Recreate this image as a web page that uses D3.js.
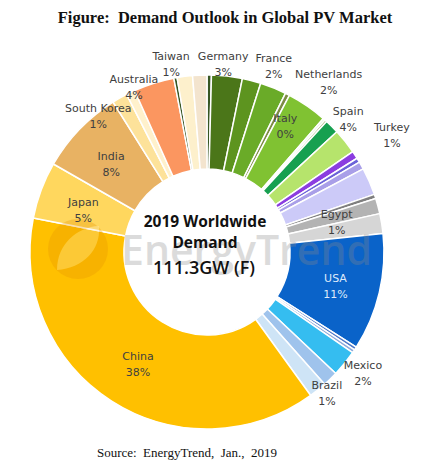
<!DOCTYPE html>
<html>
<head>
<meta charset="utf-8">
<script src="https://cdn.jsdelivr.net/npm/d3@7/dist/d3.min.js"></script>
<style>
  html, body { margin: 0; padding: 0; background: #fff; }
  .lbl { font-family: "DejaVu Sans", sans-serif; font-size: 11px; fill: #404040; }
</style>
</head>
<body>
<div class="chart"></div>
<script>
// slice order: clockwise from 12 o'clock, shares in % of 111.3 GW
var countries = ["", "Germany", "France", "Netherlands", "Italy", "Spain", "", "", "Turkey", "",
  "", "", "", "", "", "Egypt", "", "USA", "", "",
  "Mexico", "Brazil", "", "China", "Japan", "India", "South Korea", "", "Australia", "",
  "Taiwan", ""];
var shares = [0.4, 2.8, 1.7, 2.4, 0.4, 3.7, 0.2, 0.2, 1.3, 2.3,
  0.7, 0.4, 0.7, 2.5, 0.4, 1.4, 1.8, 10.7, 0.3, 0.3,
  2.4, 1.4, 1.6, 38.0, 5.2, 7.8, 1.4, 0.8, 3.7, 0.3,
  1.4, 1.3];
var colors = ["#375623", "#4b7619", "#5d941f", "#6aab28", "#7d8c45", "#80c232", "#e2efd5", "#9aae64", "#17a050", "#b6e46c",
  "#8b3de0", "#6b62d8", "#a99fe8", "#cccaf8", "#7f7f7f", "#b3b3b3", "#d6d6d6", "#0a63c9", "#4e79c8", "#8eaadb",
  "#35bdf0", "#9fc3ec", "#cee4f6", "#ffc000", "#ffd75e", "#e8b263", "#fde29a", "#fff1cc", "#fb9660", "#375623",
  "#fdf0cc", "#f3e4ce"];

(function() {
  var
    width = 435,
    height = 469,
    center = { x: 207, y: 252 },
    rOuter = 177,
    rInner = 83;

  // where each data label sits: [angle in degrees, radius]; null angle = middle of its slice
  var labelPlace = {
    "Taiwan": [349.4, 195], "Germany": [4.8, 193], "France": [19.4, 201],
    "Netherlands": [35, 212], "Italy": [31, 152], "Spain": [45.8, 197],
    "Turkey": [56.8, 221], "Egypt": [75.3, 134], "USA": [null, 132],
    "Mexico": [126.9, 195], "Brazil": [138.8, 182], "China": [null, 128],
    "Japan": [null, 132], "India": [null, 133], "South Korea": [322.1, 177],
    "Australia": [336.6, 184]
  };

  var slices = shares.map(function(v, i) {
    return { name: countries[i], value: v, color: colors[i] };
  });
  var total = d3.sum(shares);

  var svg = d3.select(".chart").append("svg")
    .attr("width", width)
    .attr("height", height)
    .attr("viewBox", "0 0 " + width + " " + height);

  svg.append("text")
    .attr("x", 225).attr("y", 23)
    .attr("text-anchor", "middle")
    .style("font-family", "'Liberation Serif', serif")
    .style("font-weight", "bold")
    .style("font-size", "16.5px")
    .attr("fill", "#111")
    .text("Figure:\u00a0 Demand Outlook in Global PV Market");

  var g = svg.append("g").attr("transform", "translate(" + center.x + "," + center.y + ")");

  var pie = d3.pie().sort(null).value(function(d) { return d.value; });
  var arc = d3.arc().innerRadius(rInner).outerRadius(rOuter);
  var arcs = pie(slices);

  g.selectAll("path.slice")
    .data(arcs).enter()
    .append("path")
      .attr("class", "slice")
      .attr("d", arc)
      .attr("fill", function(d) { return d.data.color; })
      .attr("stroke", "#fff")
      .attr("stroke-width", 1.5)
      .attr("stroke-linejoin", "round");

  // watermark
  var wm = g.append("g").attr("opacity", 0.3);
  wm.append("circle")
    .attr("cx", -129).attr("cy", -3).attr("r", 30)
    .attr("fill", "#e89400");
  wm.append("path")
    .attr("d", "M-150,18 C-150,-8 -130,-25 -108,-26 C-106,-2 -124,16 -150,18 Z")
    .attr("fill", "#fff").attr("opacity", 0.7);
  wm.append("text")
    .attr("x", -86).attr("y", 13)
    .style("font-family", "'Open Sans', sans-serif")
    .style("font-weight", "600")
    .style("font-size", "41px")
    .attr("fill", "#8a8a8a")
    .text("EnergyTrend");

  // center text
  var ct = g.append("g").attr("fill", "#111").attr("text-anchor", "middle")
    .style("font-family", "'Open Sans', sans-serif");
  ct.append("text").attr("x", -2).attr("y", -25)
    .style("font-weight", "bold").style("font-size", "15.5px")
    .text("2019 Worldwide");
  ct.append("text").attr("x", -2).attr("y", -4)
    .style("font-weight", "bold").style("font-size", "15.5px")
    .text("Demand");
  ct.append("text").attr("x", -3).attr("y", 22)
    .style("font-weight", "600").style("font-size", "18px")
    .text("111.3GW (F)");

  // data labels
  function labelPos(d) {
    var p = labelPlace[d.data.name];
    var a = p[0] === null ? (d.startAngle + d.endAngle) / 2 : p[0] * Math.PI / 180;
    return [Math.sin(a) * p[1], -Math.cos(a) * p[1]];
  }
  var lab = g.selectAll("g.lab")
    .data(arcs.filter(function(d) { return d.data.name !== ""; })).enter()
    .append("g")
      .attr("class", "lab")
      .attr("transform", function(d) { return "translate(" + labelPos(d) + ")"; });
  lab.append("text")
    .attr("class", "lbl")
    .attr("text-anchor", "middle")
    .style("fill", function(d) { return d.data.name === "USA" ? "#dfeafb" : null; })
    .text(function(d) { return d.data.name; });
  lab.append("text")
    .attr("class", "lbl")
    .attr("y", 16)
    .attr("text-anchor", "middle")
    .style("fill", function(d) { return d.data.name === "USA" ? "#dfeafb" : null; })
    .text(function(d) { return Math.round(d.data.value / total * 100) + "%"; });

  svg.append("text")
    .attr("x", 187).attr("y", 457)
    .attr("text-anchor", "middle")
    .style("font-family", "'Liberation Serif', serif")
    .style("font-size", "13px")
    .attr("fill", "#111")
    .text("Source:\u00a0 EnergyTrend,\u00a0 Jan.,\u00a0 2019");
})();
</script>
</body>
</html>
